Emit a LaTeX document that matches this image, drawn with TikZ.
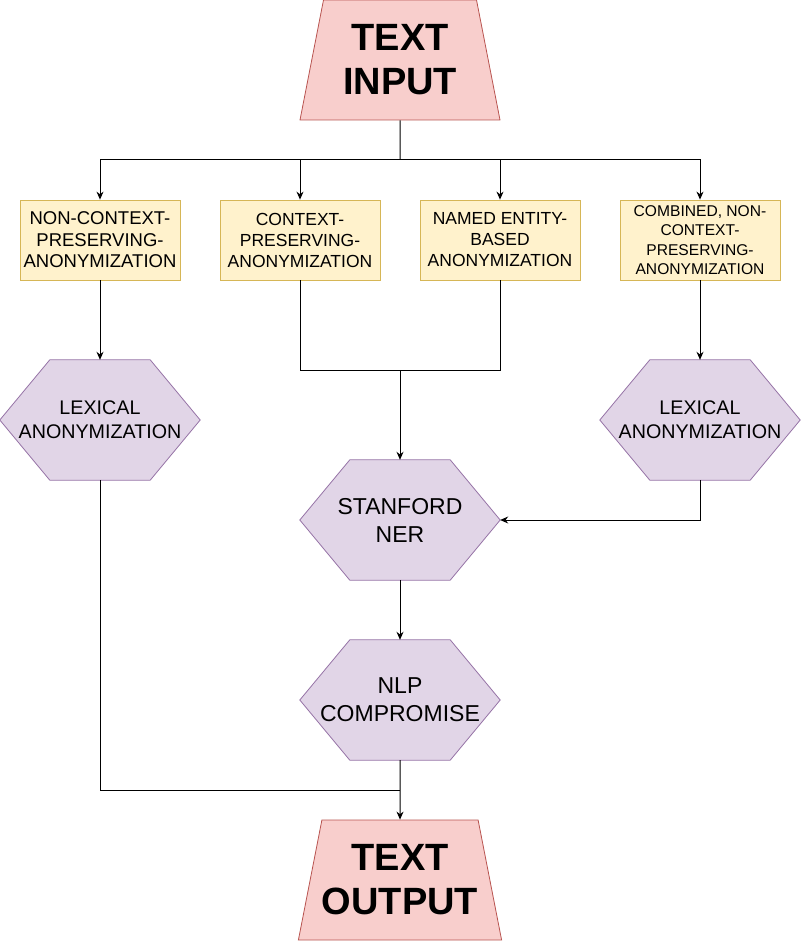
\documentclass[tikz,border=0pt]{standalone}
\usepackage{fontspec}
\setmainfont{Liberation Sans}
\usetikzlibrary{shapes.geometric, arrows.meta, backgrounds}

\definecolor{ioFill}{HTML}{F8CECC}
\definecolor{ioLine}{HTML}{B85450}
\definecolor{methodFill}{HTML}{FFF2CC}
\definecolor{methodLine}{HTML}{D6B656}
\definecolor{toolFill}{HTML}{E1D5E7}
\definecolor{toolLine}{HTML}{9673A6}

\begin{document}
\begin{tikzpicture}[
	x=1pt, y=-1pt,
	io/.style={trapezium, trapezium left angle=71.57, trapezium right angle=71.57,
		trapezium stretches body, minimum width=200pt, minimum height=120pt,
		inner sep=0pt, fill=ioFill, draw=ioLine, line width=0.8pt, align=center,
		font=\fontsize{38}{44}\selectfont\bfseries},
	method/.style={rectangle, minimum width=160pt, minimum height=80pt, inner sep=0pt,
		fill=methodFill, draw=methodLine, line width=0.8pt, align=center,
		font=\fontsize{18.5}{21.5}\selectfont},
	tool/.style={rectangle, minimum width=200pt, minimum height=120pt, inner sep=0pt,
		align=center, font=\fontsize{23}{28}\selectfont},
	hexa/.style={fill=toolFill, draw=toolLine, line width=0.8pt},
	arrow/.style={-{Stealth[length=8pt,width=7pt]}, line width=1pt},
	line/.style={line width=1pt}
]
\useasboundingbox (0, 0) rectangle (801, 941);

% Input and output
\node [io] (input) at (400, 60) {TEXT\\INPUT};
\node [io] (output) at (400, 880) {TEXT\\OUTPUT};

% Anonymization methods
\node [method] (noncontext) at (100, 240) {NON-CONTEXT-\\PRESERVING-\\ANONYMIZATION};
\node [method, font=\fontsize{17.5}{21}\selectfont] (context) at (300, 240) {CONTEXT-\\PRESERVING-\\ANONYMIZATION};
\node [method, font=\fontsize{17.5}{21}\selectfont] (named) at (500, 240) {NAMED ENTITY-\\BASED\\ANONYMIZATION};
\node [method, font=\fontsize{15.6}{19.5}\selectfont] (combined) at (700, 240) {COMBINED, NON-\\CONTEXT-\\PRESERVING-\\ANONYMIZATION};

% Tools
\node [tool, font=\fontsize{19.7}{24}\selectfont] (lexleft) at (100, 420) {LEXICAL\\ANONYMIZATION};
\node [tool, font=\fontsize{19.7}{24}\selectfont] (lexright) at (700, 420) {LEXICAL\\ANONYMIZATION};
\node [tool] (ner) at (400, 520) {STANFORD\\NER};
\node [tool] (nlp) at (400, 700) {NLP\\COMPROMISE};

% Hexagons behind the tools
\begin{scope}[on background layer]
\foreach \t in {lexleft, lexright, ner, nlp}
	\draw [hexa] (\t.west) -- ([xshift=50pt]\t.north west) -- ([xshift=-50pt]\t.north east)
		-- (\t.east) -- ([xshift=-50pt]\t.south east) -- ([xshift=50pt]\t.south west) -- cycle;
\end{scope}

\coordinate (split) at (400, 160);
\coordinate (join) at (400, 370);
\coordinate (merge) at (400, 790);

\draw [line] (input.south) -- (split);
\draw [arrow] (split) -| (noncontext.north);
\draw [arrow] (split) -| (context.north);
\draw [arrow] (split) -| (named.north);
\draw [arrow] (split) -| (combined.north);

\draw [arrow] (noncontext.south) -- (lexleft.north);
\draw [arrow] (combined.south) -- (lexright.north);

\draw [line] (context.south) |- (join);
\draw [line] (named.south) |- (join);
\draw [arrow] (join) -- (ner.north);

\draw [arrow] (lexright.south) |- (ner.east);
\draw [arrow] (ner.south) -- (nlp.north);
\draw [arrow] (nlp.south) -- (output.north);
\draw [line] (lexleft.south) |- (merge);
\end{tikzpicture}
\end{document}
